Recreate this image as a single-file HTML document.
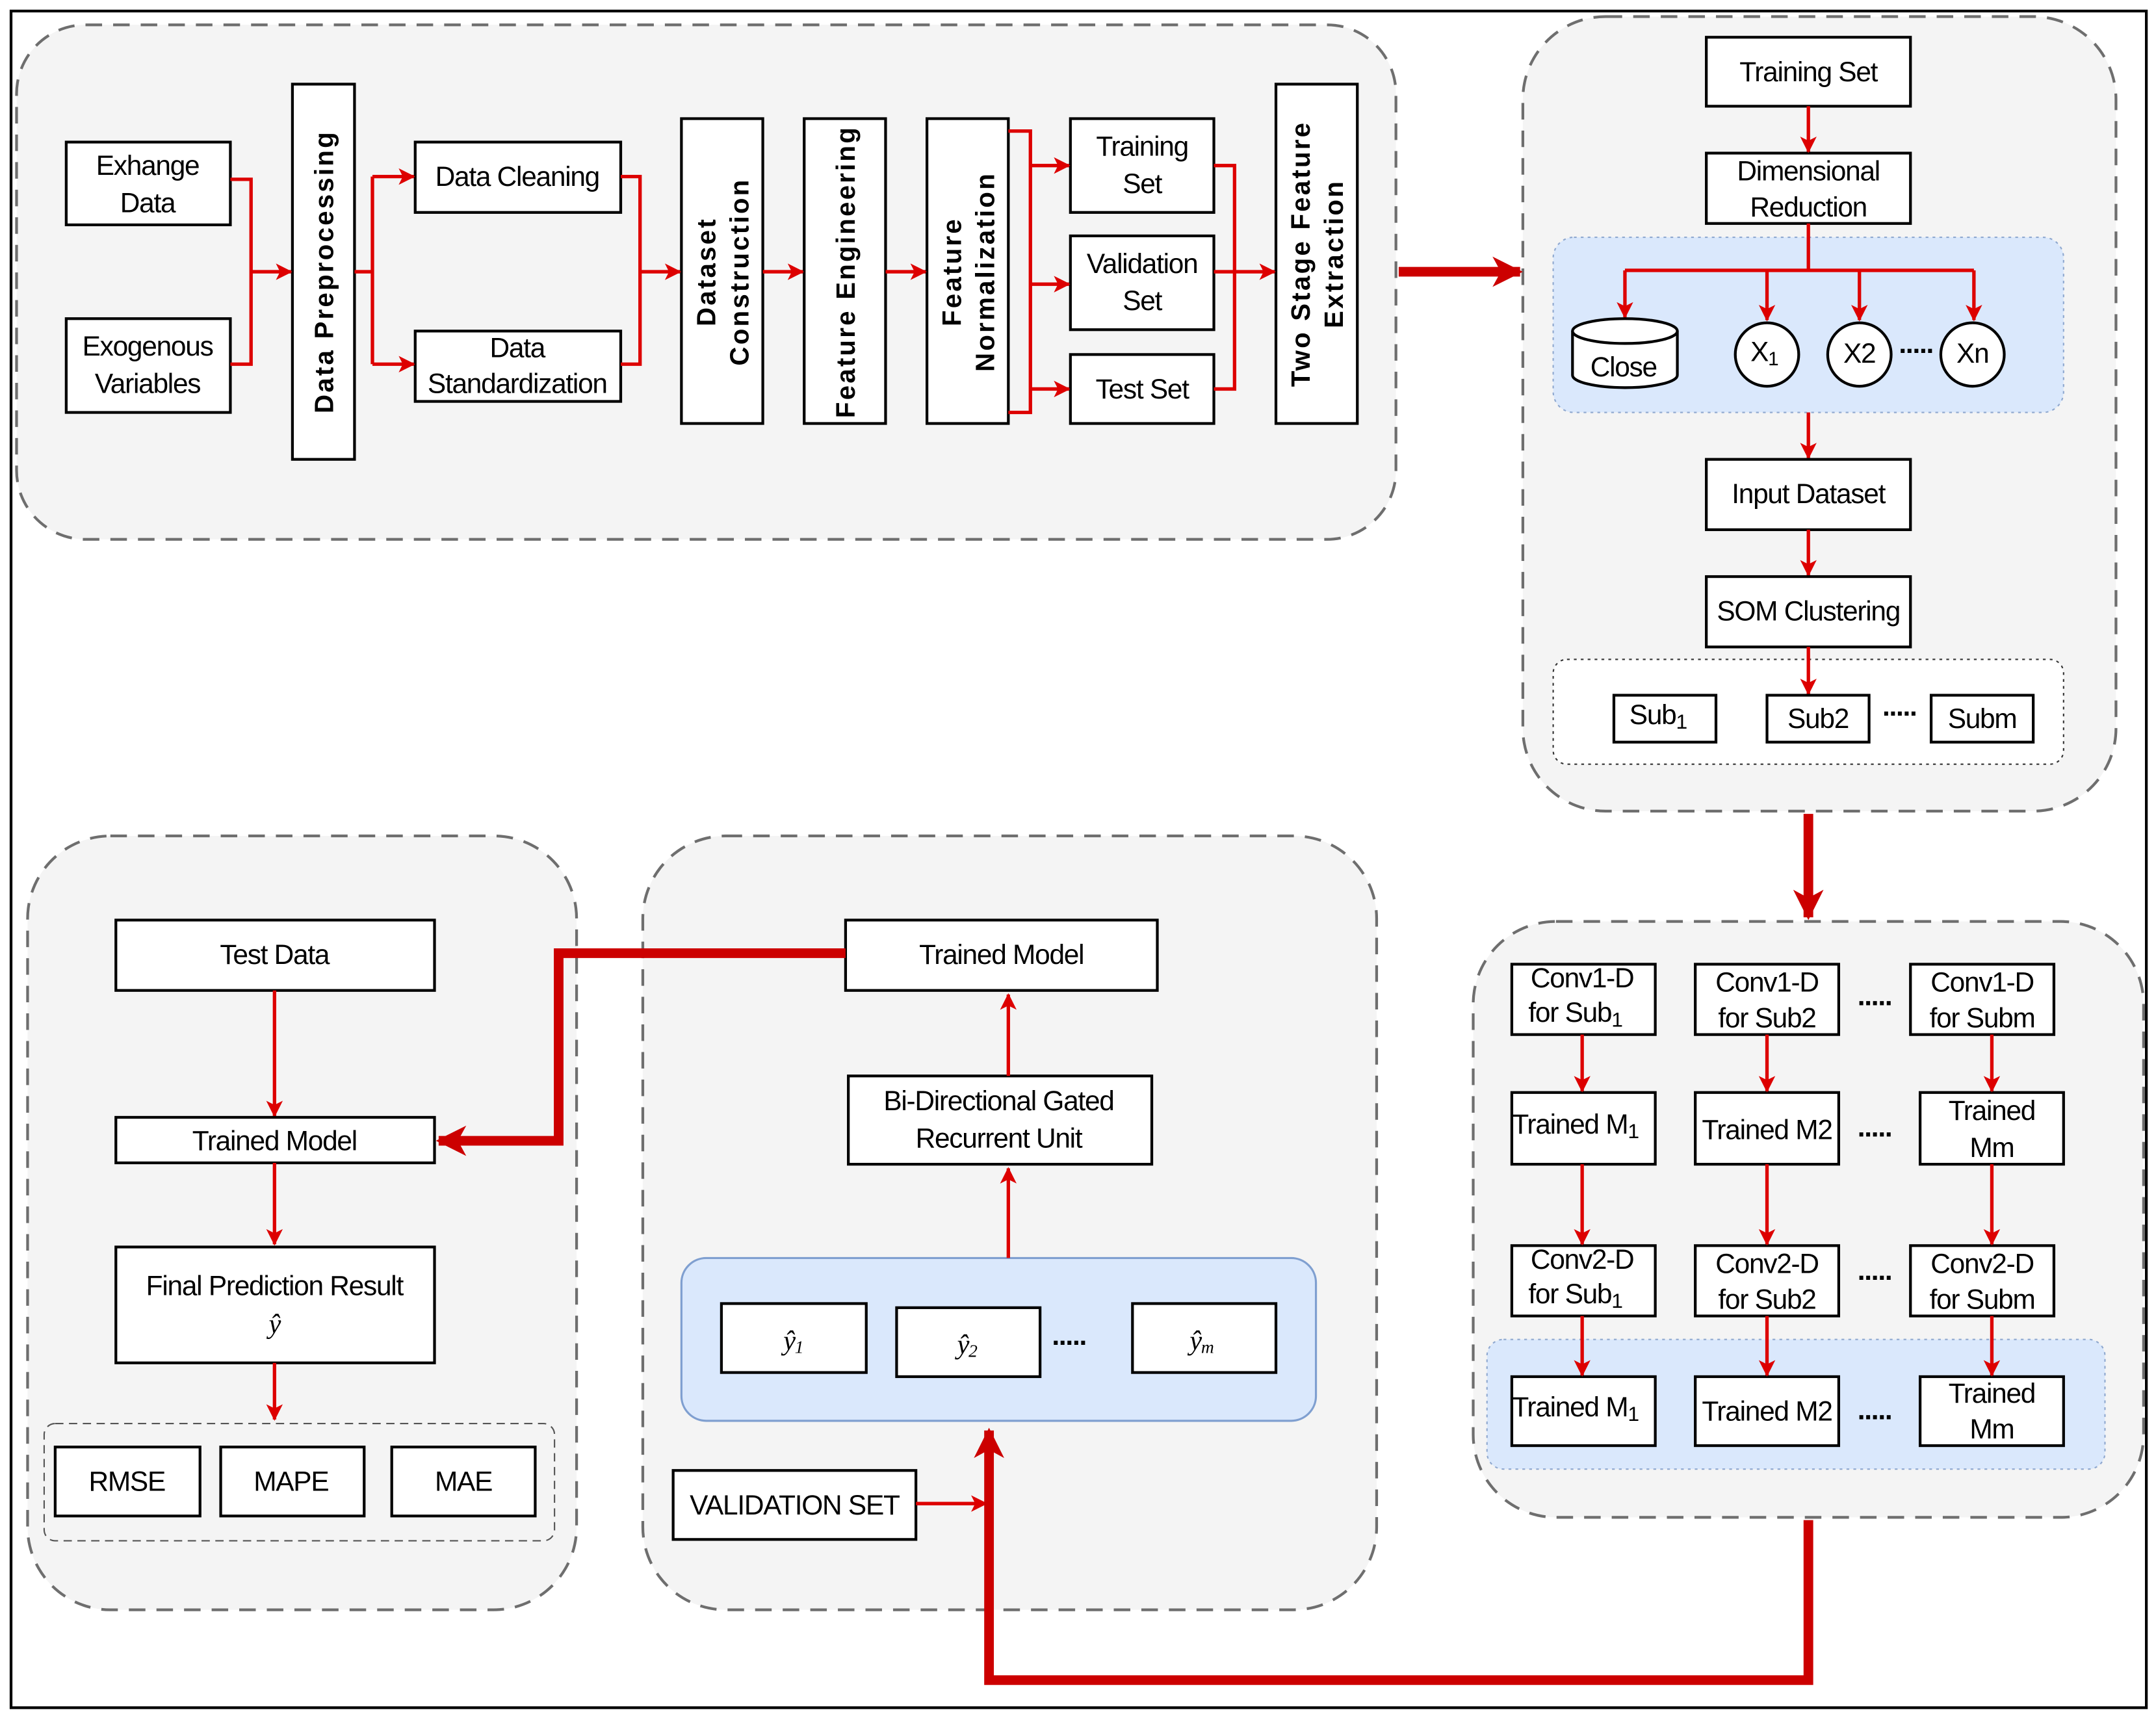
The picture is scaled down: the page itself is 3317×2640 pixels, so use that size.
<!DOCTYPE html>
<html><head><meta charset="utf-8"><style>html,body{margin:0;padding:0;background:#fff}svg{display:block}
text{font-family:"Liberation Sans Narrow","Liberation Sans",sans-serif;font-size:20px;letter-spacing:-0.6px;fill:#000;text-anchor:middle;dominant-baseline:central}
.v{font-family:"Liberation Sans",sans-serif;font-weight:bold;font-size:19px;letter-spacing:1.5px}
.b{fill:#fff;stroke:#000;stroke-width:2}
.p{fill:#f4f4f4;stroke:#6e6e6e;stroke-width:2;stroke-dasharray:12 8}
.r{fill:none;stroke:#d00;stroke-width:2.5}
.R{fill:none;stroke:#c00;stroke-width:7}
.i{font-family:"Liberation Serif",serif;font-style:italic}
</style></head><body>
<svg width="3317" height="2640" viewBox="0 0 1563 1244" xmlns="http://www.w3.org/2000/svg">
<defs>
<marker id="a" markerWidth="12" markerHeight="12" refX="11" refY="6" orient="auto" markerUnits="userSpaceOnUse" viewBox="0 0 12 12"><path d="M0,0L12,6L0,12L3,6Z" fill="#d00"/></marker>
<marker id="A" markerWidth="22" markerHeight="22" refX="20" refY="11" orient="auto" markerUnits="userSpaceOnUse" viewBox="0 0 22 22"><path d="M0,0L22,11L0,22L6,11Z" fill="#c00"/></marker>
</defs>
<rect x="8" y="8" width="1548" height="1230" fill="#fff" stroke="#000" stroke-width="2"/>
<!-- panel 1 -->
<rect class="p" x="12" y="18" width="1000" height="373" rx="50"/>
<rect class="b" x="48" y="103" width="119" height="60"/><text x="107" y="120">Exhange</text><text x="107" y="147">Data</text>
<rect class="b" x="48" y="231" width="119" height="68"/><text x="107" y="251">Exogenous</text><text x="107" y="278">Variables</text>
<rect class="b" x="212" y="61" width="45" height="272"/><text class="v" transform="translate(235,197) rotate(-90)">Data Preprocessing</text>
<rect class="b" x="301" y="103" width="149" height="51"/><text x="375" y="128">Data Cleaning</text>
<rect class="b" x="301" y="240" width="149" height="51"/><text x="375" y="252">Data</text><text x="375" y="278">Standardization</text>
<rect class="b" x="494" y="86" width="59" height="221"/><text class="v" transform="translate(512,197) rotate(-90)">Dataset</text><text class="v" transform="translate(536,197) rotate(-90)">Construction</text>
<rect class="b" x="583" y="86" width="59" height="221"/><text class="v" transform="translate(613,197) rotate(-90)">Feature Engineering</text>
<rect class="b" x="672" y="86" width="59" height="221"/><text class="v" transform="translate(690,197) rotate(-90)">Feature</text><text class="v" transform="translate(714,197) rotate(-90)">Normalization</text>
<rect class="b" x="776" y="86" width="104" height="68"/><text x="828" y="106">Training</text><text x="828" y="133">Set</text>
<rect class="b" x="776" y="171" width="104" height="68"/><text x="828" y="191">Validation</text><text x="828" y="218">Set</text>
<rect class="b" x="776" y="257" width="104" height="50"/><text x="828" y="282">Test Set</text>
<rect class="b" x="925" y="61" width="59" height="246"/><text class="v" transform="translate(943,184) rotate(-90)">Two Stage Feature</text><text class="v" transform="translate(967,184) rotate(-90)">Extraction</text>
<path class="r" d="M167,130H182V264H167"/><path class="r" d="M182,197H211" marker-end="url(#a)"/>
<path class="r" d="M257,197H270"/><path class="r" d="M270,128V264"/><path class="r" d="M270,128H300" marker-end="url(#a)"/><path class="r" d="M270,264H300" marker-end="url(#a)"/>
<path class="r" d="M450,128H464V264H450"/><path class="r" d="M464,197H493" marker-end="url(#a)"/>
<path class="r" d="M553,197H582" marker-end="url(#a)"/><path class="r" d="M642,197H671" marker-end="url(#a)"/>
<path class="r" d="M731,95H747V299H731"/><path class="r" d="M747,120H775" marker-end="url(#a)"/><path class="r" d="M747,206H775" marker-end="url(#a)"/><path class="r" d="M747,282H775" marker-end="url(#a)"/>
<path class="r" d="M880,120H895V282H880"/><path class="r" d="M880,197H924" marker-end="url(#a)"/>
<!-- panel 2 -->
<rect class="p" x="1104" y="12" width="430" height="576" rx="60"/>
<rect class="b" x="1237" y="27" width="148" height="50"/><text x="1311" y="52">Training Set</text>
<rect class="b" x="1237" y="111" width="148" height="51"/><text x="1311" y="124">Dimensional</text><text x="1311" y="150">Reduction</text>
<rect x="1126" y="172" width="370" height="127" rx="15" fill="#dae8fc" stroke="#8fa8cf" stroke-dasharray="2 3"/>
<path class="r" d="M1311,77V110" marker-end="url(#a)"/>
<path class="r" d="M1311,162V196M1178,196H1431"/>
<path class="r" d="M1178,196V230" marker-end="url(#a)"/><path class="r" d="M1281,196V232" marker-end="url(#a)"/><path class="r" d="M1348,196V232" marker-end="url(#a)"/><path class="r" d="M1431,196V232" marker-end="url(#a)"/>
<path d="M1140,240V272A38,9 0 0 0 1216,272V240" fill="#fff" stroke="#000" stroke-width="2"/><ellipse cx="1178" cy="240" rx="38" ry="9" fill="#fff" stroke="#000" stroke-width="2"/><text x="1177" y="266">Close</text>
<circle cx="1281" cy="257" r="23" fill="#fff" stroke="#000" stroke-width="2"/><text x="1279" y="255">X<tspan font-size="14" dy="5">1</tspan></text>
<circle cx="1348" cy="257" r="23" fill="#fff" stroke="#000" stroke-width="2"/><text x="1348" y="256">X2</text>
<circle cx="1430" cy="257" r="23" fill="#fff" stroke="#000" stroke-width="2"/><text x="1430" y="256">Xn</text>
<text x="1389" y="249" font-weight="bold">.....</text>
<path class="r" d="M1311,299V332" marker-end="url(#a)"/>
<rect class="b" x="1237" y="333" width="148" height="51"/><text x="1311" y="358">Input Dataset</text>
<path class="r" d="M1311,384V417" marker-end="url(#a)"/>
<rect class="b" x="1237" y="418" width="148" height="51"/><text x="1311" y="443">SOM Clustering</text>
<rect x="1126" y="478" width="370" height="76" rx="10" fill="#fff" stroke="#333" stroke-dasharray="2 3"/>
<path class="r" d="M1311,469V503" marker-end="url(#a)"/>
<rect class="b" x="1170" y="504" width="74" height="34"/><text x="1202" y="518">Sub<tspan font-size="15" dy="5">1</tspan></text>
<rect class="b" x="1281" y="504" width="74" height="34"/><text x="1318" y="521">Sub2</text>
<rect class="b" x="1400" y="504" width="74" height="34"/><text x="1437" y="521">Subm</text>
<text x="1377" y="512" font-weight="bold">.....</text>
<!-- panel 3 -->
<rect class="p" x="1068" y="668" width="486" height="432" rx="60"/>
<rect x="1078" y="971" width="448" height="94" rx="12" fill="#dae8fc" stroke="#8fa8cf" stroke-dasharray="2 3"/>
<g>
<rect class="b" x="1096" y="699" width="104" height="51"/><text x="1147" y="709">Conv1-D</text><text x="1142" y="734">for Sub<tspan font-size="15" dy="5">1</tspan></text>
<rect class="b" x="1229" y="699" width="104" height="51"/><text x="1281" y="712">Conv1-D</text><text x="1281" y="738">for Sub2</text>
<rect class="b" x="1385" y="699" width="104" height="51"/><text x="1437" y="712">Conv1-D</text><text x="1437" y="738">for Subm</text>
<rect class="b" x="1096" y="792" width="104" height="52"/><text x="1142" y="815">Trained M<tspan font-size="15" dy="5">1</tspan></text>
<rect class="b" x="1229" y="792" width="104" height="52"/><text x="1281" y="819">Trained M2</text>
<rect class="b" x="1392" y="792" width="104" height="52"/><text x="1444" y="805">Trained</text><text x="1444" y="832">Mm</text>
<rect class="b" x="1096" y="903" width="104" height="51"/><text x="1147" y="913">Conv2-D</text><text x="1142" y="938">for Sub<tspan font-size="15" dy="5">1</tspan></text>
<rect class="b" x="1229" y="903" width="104" height="51"/><text x="1281" y="916">Conv2-D</text><text x="1281" y="942">for Sub2</text>
<rect class="b" x="1385" y="903" width="104" height="51"/><text x="1437" y="916">Conv2-D</text><text x="1437" y="942">for Subm</text>
<rect class="b" x="1096" y="998" width="104" height="50"/><text x="1142" y="1020">Trained M<tspan font-size="15" dy="5">1</tspan></text>
<rect class="b" x="1229" y="998" width="104" height="50"/><text x="1281" y="1023">Trained M2</text>
<rect class="b" x="1392" y="998" width="104" height="50"/><text x="1444" y="1010">Trained</text><text x="1444" y="1036">Mm</text>
<text x="1359" y="722" font-weight="bold">.....</text><text x="1359" y="817" font-weight="bold">.....</text><text x="1359" y="921" font-weight="bold">.....</text><text x="1359" y="1022" font-weight="bold">.....</text>
<path class="r" d="M1147,750V791" marker-end="url(#a)"/><path class="r" d="M1281,750V791" marker-end="url(#a)"/><path class="r" d="M1444,750V791" marker-end="url(#a)"/>
<path class="r" d="M1147,844V902" marker-end="url(#a)"/><path class="r" d="M1281,844V902" marker-end="url(#a)"/><path class="r" d="M1444,844V902" marker-end="url(#a)"/>
<path class="r" d="M1147,954V997" marker-end="url(#a)"/><path class="r" d="M1281,954V997" marker-end="url(#a)"/><path class="r" d="M1444,954V997" marker-end="url(#a)"/>
</g>
<!-- panel 4 -->
<rect class="p" x="466" y="606" width="532" height="561" rx="60"/>
<rect class="b" x="613" y="667" width="226" height="51"/><text x="726" y="692">Trained Model</text>
<rect class="b" x="615" y="780" width="220" height="64"/><text x="724" y="798">Bi-Directional Gated</text><text x="724" y="825">Recurrent Unit</text>
<path class="r" d="M731,780V721" marker-end="url(#a)"/>
<rect x="494" y="912" width="460" height="118" rx="18" fill="#dae8fc" stroke="#7f9fd0" stroke-width="1.5"/>
<path class="r" d="M731,912V847" marker-end="url(#a)"/>
<rect class="b" x="523" y="945" width="105" height="50"/><text class="i" x="575" y="972">ŷ<tspan font-size="13" dy="4">1</tspan></text>
<rect class="b" x="650" y="948" width="104" height="50"/><text class="i" x="701" y="975">ŷ<tspan font-size="13" dy="4">2</tspan></text>
<rect class="b" x="821" y="945" width="104" height="50"/><text class="i" x="871" y="972">ŷ<tspan font-size="13" dy="4">m</tspan></text>
<text x="775" y="968" font-weight="bold">.....</text>
<rect class="b" x="488" y="1066" width="176" height="50"/><text x="576" y="1091">VALIDATION SET</text>
<path class="r" d="M664,1090H715" marker-end="url(#a)"/>
<!-- panel 5 -->
<rect class="p" x="20" y="606" width="398" height="561" rx="60"/>
<rect class="b" x="84" y="667" width="231" height="51"/><text x="199" y="692">Test Data</text>
<path class="r" d="M199,718V809" marker-end="url(#a)"/>
<rect class="b" x="84" y="810" width="231" height="33"/><text x="199" y="827">Trained Model</text>
<path class="r" d="M199,843V902" marker-end="url(#a)"/>
<rect class="b" x="84" y="904" width="231" height="84"/><text x="199" y="932">Final Prediction Result</text><text class="i" x="199" y="960">ŷ</text>
<path class="r" d="M199,988V1029" marker-end="url(#a)"/>
<rect x="32" y="1032" width="370" height="85" rx="8" fill="none" stroke="#555" stroke-dasharray="6 4"/>
<rect class="b" x="40" y="1049" width="105" height="50"/><text x="92" y="1074">RMSE</text>
<rect class="b" x="160" y="1049" width="104" height="50"/><text x="211" y="1074">MAPE</text>
<rect class="b" x="284" y="1049" width="104" height="50"/><text x="336" y="1074">MAE</text>
<!-- thick connectors on top -->
<path class="R" d="M1014,197H1102" marker-end="url(#A)"/>
<path class="R" d="M1311,590V665" marker-end="url(#A)"/>
<path class="R" d="M1311,1102V1218H717V1037" marker-end="url(#A)"/>
<path class="R" d="M613,691H405V827H318" marker-end="url(#A)"/>
</svg>
</body></html>
